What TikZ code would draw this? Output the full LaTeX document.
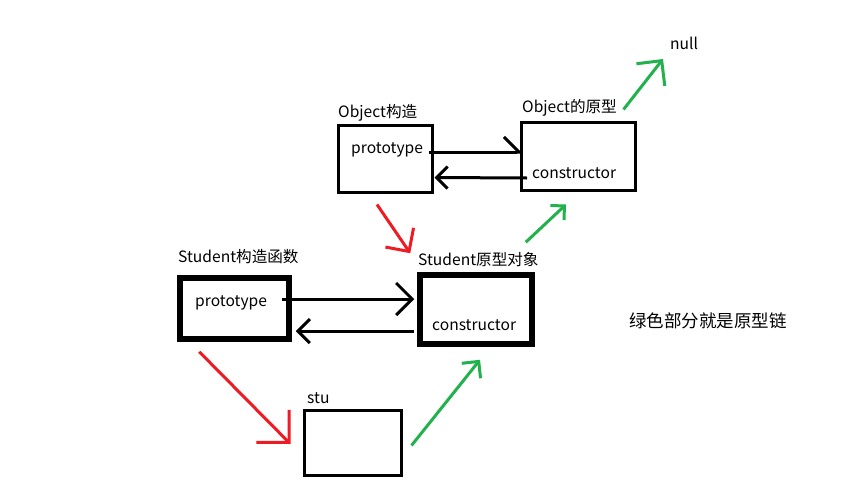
\documentclass[tikz,border=0pt]{standalone}
\usepackage{fontspec}
\setmainfont{Noto Sans CJK SC}
\usetikzlibrary{arrows.meta}
\definecolor{paintred}{HTML}{ED1C24}
\definecolor{paintgreen}{HTML}{22B14C}
\begin{document}
\begin{tikzpicture}[
  x=1pt, y=-1pt,
  every node/.style={font=\fontsize{15.6}{18}\selectfont, inner sep=0pt},
  box/.style={draw, line width=3pt, inner sep=0pt},
  boldbox/.style={draw, line width=5.5pt, inner sep=0pt},
  lbl/.style={anchor=base west},
  blk/.style={line width=3pt},
  redarr/.style={line width=3pt, draw=paintred},
  grnarr/.style={line width=3pt, draw=paintgreen},
]
\useasboundingbox (0,0) rectangle (860,493);

% ── Object side ──────────────────
\node[box, minimum width=94pt, minimum height=67pt] (ocbox) at (385,158.5) {};
\node[lbl] (octitle) at (338,117) {Object构造};
\node[lbl] (optxt) at (351,153) {prototype};
\node[box, minimum width=114pt, minimum height=68pt] (opbox) at (578,156) {};
\node[lbl] (optitle) at (522,112) {Object的原型};
\node[lbl] (octxt) at (532,178) {constructor};
\node[lbl] (nulltxt) at (670,49) {null};

% ── Student side ─────────────────
\node[boldbox, minimum width=109pt, minimum height=61pt] (scbox) at (234.5,308.5) {};
\node[lbl] (sctitle) at (178,262) {Student构造函数};
\node[lbl] (sptxt) at (195,306) {prototype};
\node[boldbox, minimum width=112pt, minimum height=69pt] (spbox) at (476,309.5) {};
\node[lbl] (sptitle) at (418,265) {Student原型对象};
\node[lbl] (sctxt) at (432,330) {constructor};

% ── instance ─────────────────────
\node[box, minimum width=97pt, minimum height=65pt] (stubox) at (352.5,442.5) {};
\node[lbl] (stutitle) at (307,403) {stu};

\node[lbl, font=\fontsize{17.5}{20}\selectfont] (note) at (629,327) {绿色部分就是原型链};

% ── prototype / constructor links ──
\draw[blk, -{Straight Barb[left, length=15pt, width=30pt]}]
  ([shift={(6,-1)}]optxt.base east) -- ([shift={(3,-4)}]opbox.west);
\draw[blk, -{Straight Barb[length=11pt, width=22pt]}]
  ([shift={(-5,0)}]octxt.base west) -- ([shift={(1,19)}]ocbox.east);
\draw[blk, -{Straight Barb[length=16pt, width=32pt]}]
  ([shift={(15,-7)}]sptxt.base east) -- ([shift={(-3,-10.5)}]spbox.west);
\draw[blk, -{Straight Barb[length=12pt, width=24pt]}]
  ([shift={(-3,21.5)}]spbox.west) -- ([shift={(4,22.5)}]scbox.east);

% ── red: constructor creates ───────
\draw[redarr, -{Straight Barb[length=17pt, width=34pt]}]
  ([shift={(-8,11)}]ocbox.south) -- ([shift={(-7,-19)}]spbox.north west);
\draw[redarr, -{Straight Barb[length=23pt, width=46pt]}]
  ([shift={(22,10)}]scbox.south west) -- ([shift={(-12,1.5)}]stubox.west);

% ── green: prototype chain ─────────
\draw[grnarr, -{Straight Barb[length=12pt, width=24pt]}]
  ([shift={(9,3)}]stubox.east) -- ([shift={(4,13)}]spbox.south);
\draw[grnarr, -{Straight Barb[length=10pt, width=20pt]}]
  ([shift={(-9,-30)}]spbox.north east) -- ([shift={(-12,13)}]opbox.south);
\draw[grnarr, -{Straight Barb[length=18pt, width=36pt]}]
  ([shift={(-13,-11)}]opbox.north east) -- ([shift={(-7,10)}]nulltxt.base west);

\end{tikzpicture}
\end{document}
